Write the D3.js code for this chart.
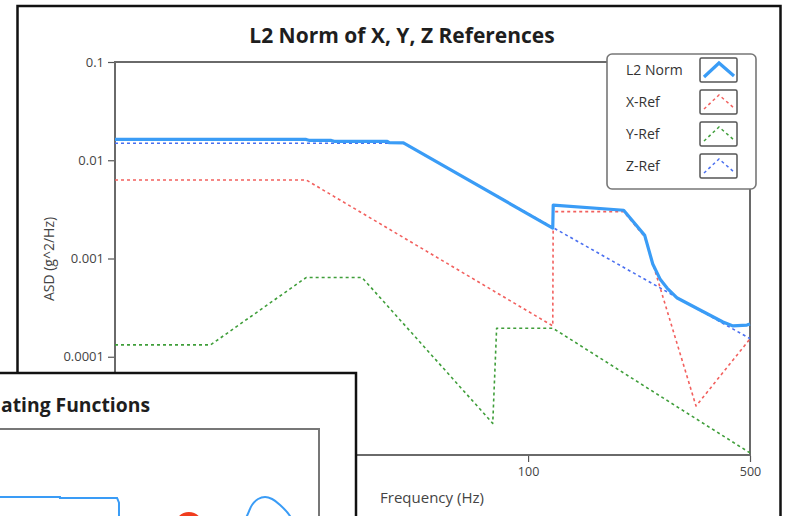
<!DOCTYPE html>
<html><head><meta charset="utf-8">
<script src="https://cdn.jsdelivr.net/npm/d3@7"></script>
<style>body{margin:0;background:#fff;} svg{display:block;}</style>
</head><body>
<svg id="c" width="791" height="516"></svg>
<script>
// ---- Data ----
const seriesNames = ["L2 Norm", "X-Ref", "Y-Ref", "Z-Ref"];
const l2Freq = [5, 20, 20.5, 24, 24.5, 36, 36.5, 40.5, 119.6, 120, 200, 233, 247, 261, 274, 295, 348, 411, 442, 489, 500];
const l2Asd  = [0.0163, 0.0163, 0.0159, 0.0159, 0.0156, 0.0156, 0.0151, 0.0150, 0.00204, 0.0035, 0.0031, 0.00172, 0.00088, 0.00061, 0.0005, 0.000396, 0.000299, 0.000226, 0.000206, 0.00021, 0.000215];
const xRefFreq = [5, 20, 119.6, 120, 200, 233, 338, 500];
const xRefAsd  = [0.0063, 0.0063, 0.000206, 0.003, 0.003, 0.00166, 0.0000315, 0.000152];
const yRefFreq = [5, 10, 20, 30, 77.4, 79.6, 119.8, 500];
const yRefAsd  = [0.000132, 0.000132, 0.00064, 0.00064, 0.000021, 0.000195, 0.000195, 0.0000105];
const zRefFreq = [5, 40.5, 500];
const zRefAsd  = [0.0149, 0.0149, 0.000153];
const yTicks = [0.1, 0.01, 0.001, 0.0001, 0.00001];
const yTickLabels = ["0.1", "0.01", "0.001", "0.0001", "0.00001"];
const xTicks = [10, 100, 500];
const xTickLabels = ["10", "100", "500"];
// overlapped second graph (only partly visible)
const wStepX = [0, 18.8, 18.8, 36.7, 37.3, 37.3];
const wStepY = [0.327, 0.327, 0.318, 0.318, 0.27, 0.0];
const wBellX = [74.5, 77.4, 79.0, 80.9, 83.1, 85.3, 87.8, 90.9, 92.5];
const wBellY = [0.0, 0.139, 0.248, 0.307, 0.327, 0.307, 0.248, 0.139, 0.0];
const wRedX = [59.2];
const wRedY = [0.04];

// ---- Layout ----
const svg = d3.select("#c");
const font = "'Open Sans', 'Noto Sans', sans-serif";
svg.append("rect").attr("width", 791).attr("height", 516).attr("fill", "#fff");

const P = {l: 115, r: 750, t: 62, b: 455};
const x = d3.scaleLog().domain([5, 500]).range([P.l, P.r]);
const y = d3.scaleLog().domain([1e-5, 0.1]).range([P.b, P.t]);

// outer window frame
svg.append("rect").attr("x", 17.5).attr("y", 6).attr("width", 763).attr("height", 540)
  .attr("fill", "none").attr("stroke", "#111").attr("stroke-width", 2.5);

// title
svg.append("text").attr("x", 402).attr("y", 43).attr("text-anchor", "middle")
  .attr("font-family", font).attr("font-weight", "bold").attr("font-size", 21)
  .attr("fill", "#1e1e1e").text("L2 Norm of X, Y, Z References");

// plot frame
svg.append("rect").attr("x", P.l).attr("y", P.t).attr("width", P.r - P.l).attr("height", P.b - P.t)
  .attr("fill", "#fff").attr("stroke", "#6a6a6a").attr("stroke-width", 2);

// axes
const yAxis = d3.axisLeft(y).tickValues(yTicks).tickSize(6).tickPadding(4)
  .tickFormat((d, i) => yTickLabels[i]);
const gy = svg.append("g").attr("transform", `translate(${P.l - 1},0)`).call(yAxis);
gy.select(".domain").remove();
gy.selectAll(".tick line").attr("stroke", "#555").attr("stroke-width", 1.2);
gy.selectAll(".tick text").attr("font-family", font).attr("font-size", 13).attr("fill", "#444");

const xAxis = d3.axisBottom(x).tickValues(xTicks).tickSize(6).tickPadding(5)
  .tickFormat((d, i) => xTickLabels[i]);
const gx = svg.append("g").attr("transform", `translate(0,${P.b + 1})`).call(xAxis);
gx.select(".domain").remove();
gx.selectAll(".tick line").attr("stroke", "#555").attr("stroke-width", 1.2);
gx.selectAll(".tick text").attr("font-family", font).attr("font-size", 12.5).attr("fill", "#444");

svg.append("text").attr("transform", `translate(54,259) rotate(-90)`).attr("text-anchor", "middle")
  .attr("font-family", font).attr("font-size", 14).attr("fill", "#444").text("ASD (g^2/Hz)");
svg.append("text").attr("x", 432).attr("y", 503).attr("text-anchor", "middle")
  .attr("font-family", font).attr("font-size", 15).attr("fill", "#444").text("Frequency (Hz)");

// series
svg.append("clipPath").attr("id", "clip").append("rect")
  .attr("x", P.l).attr("y", P.t - 2).attr("width", P.r - P.l + 1).attr("height", P.b - P.t + 3);
const line = d3.line().x(d => x(d[0])).y(d => y(d[1]));
const zip = (a, b) => a.map((v, i) => [v, b[i]]);
const series = [
  {name: "X-Ref", data: zip(xRefFreq, xRefAsd), color: "#f2605e", w: 1.6, dash: "3,3"},
  {name: "Y-Ref", data: zip(yRefFreq, yRefAsd), color: "#3f9e3a", w: 1.6, dash: "3,3"},
  {name: "Z-Ref", data: zip(zRefFreq, zRefAsd), color: "#4a6ff0", w: 1.6, dash: "3,3"},
  {name: "L2 Norm", data: zip(l2Freq, l2Asd), color: "#3a9cf6", w: 3.2, dash: null}
];
const gs = svg.append("g").attr("clip-path", "url(#clip)");
series.forEach(s => {
  gs.append("path").datum(s.data).attr("d", line).attr("fill", "none")
    .attr("stroke", s.color).attr("stroke-width", s.w).attr("stroke-dasharray", s.dash)
    .attr("stroke-linejoin", "round");
});

// legend
const lg = svg.append("g");
lg.append("rect").attr("x", 607).attr("y", 54).attr("width", 149).attr("height", 135).attr("rx", 5)
  .attr("fill", "#fff").attr("stroke", "#777").attr("stroke-width", 1.6);
const legendOrder = ["L2 Norm", "X-Ref", "Y-Ref", "Z-Ref"];
legendOrder.forEach((nm, i) => {
  const s = series.find(q => q.name === nm);
  const cy = 70 + i * 32;
  lg.append("text").attr("x", 626).attr("y", cy + 5).attr("font-family", font).attr("font-size", 14)
    .attr("fill", "#333").text(nm);
  lg.append("rect").attr("x", 700).attr("y", cy - 12).attr("width", 37).attr("height", 24).attr("rx", 1.5)
    .attr("fill", "#fff").attr("stroke", "#555").attr("stroke-width", 1.5);
  lg.append("path").attr("d", `M${704},${cy + 7} L${719},${cy - 7} L${734},${cy + 6}`)
    .attr("fill", "none").attr("stroke", s.color).attr("stroke-width", nm === "L2 Norm" ? 3.2 : 1.5)
    .attr("stroke-dasharray", nm === "L2 Norm" ? null : "3,3");
});

// overlapping second window (bottom-left)
const ov = svg.append("g");
ov.append("rect").attr("x", -10).attr("y", 373).attr("width", 366).attr("height", 200)
  .attr("fill", "#fff").attr("stroke", "#111").attr("stroke-width", 2.5);
ov.append("text").attr("x", 1).attr("y", 412).attr("text-anchor", "start")
  .attr("font-family", font).attr("font-weight", "bold").attr("font-size", 20)
  .attr("textLength", 149).attr("lengthAdjust", "spacingAndGlyphs")
  .attr("fill", "#1e1e1e").text("ating Functions");
ov.append("rect").attr("x", -10).attr("y", 429).attr("width", 329).attr("height", 200)
  .attr("fill", "none").attr("stroke", "#777").attr("stroke-width", 2);
const wx = d3.scaleLinear().domain([0, 100]).range([0, 319]);
const wy = d3.scaleLinear().domain([0, 1]).range([530, 429]);
const wline = d3.line().x(d => wx(d[0])).y(d => wy(d[1]));
ov.append("path").datum(zip(wStepX, wStepY)).attr("d", wline).attr("fill", "none")
  .attr("stroke", "#3a9cf6").attr("stroke-width", 2);
ov.append("path").datum(zip(wBellX, wBellY)).attr("d", d3.line().x(d => wx(d[0])).y(d => wy(d[1])).curve(d3.curveCatmullRom))
  .attr("fill", "none").attr("stroke", "#3a9cf6").attr("stroke-width", 2);
ov.selectAll("circle.r").data(zip(wRedX, wRedY)).join("circle").attr("class", "r")
  .attr("cx", d => wx(d[0])).attr("cy", d => wy(d[1])).attr("r", 12)
  .attr("fill", "none").attr("stroke", "#f03c1e").attr("stroke-width", 4);
</script>
</body></html>
